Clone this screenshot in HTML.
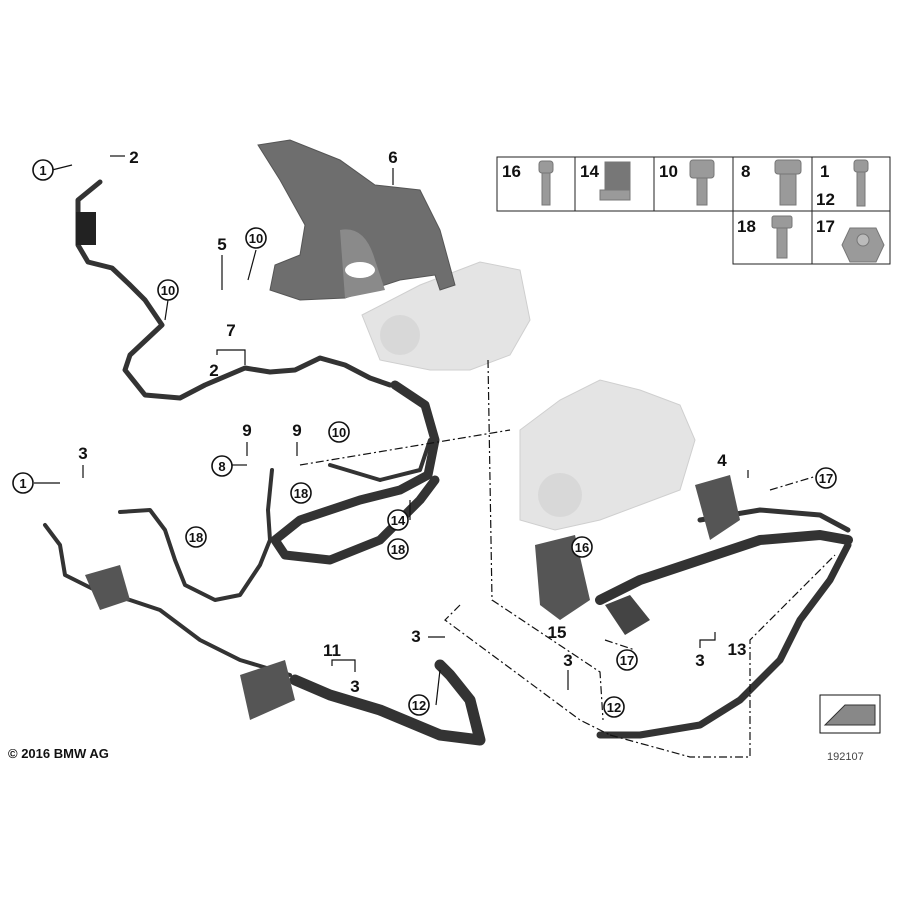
<!DOCTYPE html>
<html><head><style>body{margin:0;background:#fff}svg{display:block}text{font-family:"Liberation Sans",sans-serif;font-weight:bold;fill:#111}</style></head>
<body>
<svg width="900" height="900" viewBox="0 0 900 900" xmlns="http://www.w3.org/2000/svg">
<defs>
<style>.c{fill:#fff;stroke:#111;stroke-width:1.6}.n{font-size:13px}.b{font-size:17px}.h{fill:none;stroke:#333;stroke-linecap:round;stroke-linejoin:round}.l{stroke:#111;stroke-width:1.2;fill:none}.d{stroke:#111;stroke-width:1.2;fill:none;stroke-dasharray:8 3 2 3}</style>
</defs>
<g fill="#e4e4e4" stroke="#cfcfcf">
<path d="M362 315 L420 285 L480 262 L520 270 L530 320 L510 355 L470 370 L430 370 L380 360 Z"/>
<path d="M520 430 L560 400 L600 380 L640 390 L680 405 L695 440 L680 490 L640 505 L600 520 L555 530 L520 520 Z"/>
</g>
<circle cx="400" cy="335" r="20" fill="#d8d8d8"/>
<circle cx="560" cy="495" r="22" fill="#d8d8d8"/>
<path d="M258 145 L290 140 L340 160 L375 185 L420 190 L440 230 L455 285 L440 290 L435 275 L400 280 L345 298 L300 300 L270 290 L275 265 L300 255 L305 225 L280 180 Z" fill="#6e6e6e" stroke="#555"/>
<path d="M340 230 Q365 225 375 260 L385 290 L345 298 Z" fill="#8a8a8a"/>
<ellipse cx="360" cy="270" rx="15" ry="8" fill="#fff"/>
<g fill="none" stroke="#222" stroke-width="1">
<rect x="497" y="157" width="393" height="54"/>
<rect x="733" y="211" width="157" height="53"/>
<line x1="575" y1="157" x2="575" y2="211"/><line x1="654" y1="157" x2="654" y2="211"/><line x1="733" y1="157" x2="733" y2="211"/><line x1="812" y1="157" x2="812" y2="264"/>
</g>
<g class="b"><text x="502" y="177">16</text><text x="580" y="177">14</text><text x="659" y="177">10</text><text x="741" y="177">8</text><text x="820" y="177">1</text><text x="816" y="205">12</text><text x="737" y="232">18</text><text x="816" y="232">17</text></g>
<g fill="#9a9a9a" stroke="#777">
<rect x="542" y="170" width="8" height="35"/><rect x="539" y="161" width="14" height="12" rx="3"/>
<path d="M605 162 h25 v30 h-25 Z" fill="#777"/><path d="M600 190 h30 v10 h-30Z"/>
<rect x="697" y="175" width="10" height="30"/><rect x="690" y="160" width="24" height="18" rx="3"/>
<rect x="780" y="170" width="16" height="35"/><rect x="775" y="160" width="26" height="14" rx="3"/>
<rect x="857" y="170" width="8" height="36"/><rect x="854" y="160" width="14" height="12" rx="3"/>
<rect x="777" y="225" width="10" height="33"/><rect x="772" y="216" width="20" height="12" rx="2"/>
<path d="M842 245 L850 228 h26 l8 17 -8 17 h-26 Z"/><circle cx="863" cy="240" r="6" fill="#bbb"/>
</g>
<path class="h" stroke-width="5" d="M100 182 L78 200 L78 245 L88 262 L112 268 L130 285 L145 300 L162 325 L130 355 L125 370 L145 395 L180 398 L205 385 L245 368 L270 372 L295 370 L320 358 L345 365 L370 378 L390 385"/>
<path d="M76 212 L96 212 L96 245 L76 245Z" fill="#222"/>
<path class="h" stroke-width="9" stroke="#2e2e2e" d="M395 385 L425 405 L435 440 L428 475 L400 490 L360 500 L330 510 L300 520 L275 540 L285 555 L330 560 L380 540 L420 500 L435 480"/>
<path class="h" stroke-width="4" d="M330 465 L380 480 L420 470 L430 440"/>
<path class="h" stroke-width="4" d="M272 470 L268 510 L270 540 L260 565 L240 595 L215 600 L185 585 L175 560 L165 530 L150 510 L120 512"/>
<path class="h" stroke-width="4" d="M45 525 L60 545 L65 575 L95 590 L130 600 L160 610 L200 640 L240 660 L290 675"/>
<path class="h" stroke-width="11" stroke="#2a2a2a" d="M295 680 L330 695 L380 710 L440 735 L480 740 L470 700 L450 675 L440 665"/>
<path class="h" stroke-width="10" stroke="#2a2a2a" d="M600 600 L640 580 L700 560 L760 540 L820 535 L848 540"/>
<path class="h" stroke-width="7" stroke="#2a2a2a" d="M848 545 L830 580 L800 620 L780 660 L740 700 L700 725 L640 735 L600 735"/>
<path class="h" stroke-width="5" d="M700 520 L760 510 L820 515 L848 530"/>
<path d="M695 485 L730 475 L740 520 L710 540 Z" fill="#555"/>
<path d="M535 545 L575 535 L590 600 L560 620 L540 605Z" fill="#555"/>
<path d="M605 605 L630 595 L650 620 L625 635Z" fill="#444"/>
<path d="M240 675 L285 660 L295 700 L250 720Z" fill="#555"/>
<path d="M85 575 L120 565 L130 600 L100 610Z" fill="#555"/>
<path d="M820 695 h60 v38 h-60Z" fill="#fff" stroke="#111"/>
<path d="M825 725 L845 705 L875 705 L875 725 Z" fill="#888" stroke="#333"/>
<g class="l">
<line x1="52" y1="170" x2="72" y2="165"/><line x1="110" y1="156" x2="125" y2="156"/>
<line x1="393" y1="168" x2="393" y2="185"/><line x1="222" y1="255" x2="222" y2="290"/><line x1="256" y1="250" x2="248" y2="280"/>
<line x1="168" y1="300" x2="165" y2="320"/>
<polyline points="217,355 217,350 245,350 245,365"/>
<line x1="83" y1="465" x2="83" y2="478"/><line x1="34" y1="483" x2="60" y2="483"/>
<line x1="247" y1="442" x2="247" y2="456"/><line x1="297" y1="442" x2="297" y2="456"/><line x1="232" y1="465" x2="247" y2="465"/>
<polyline points="332,666 332,660 355,660 355,672"/>
<line x1="428" y1="637" x2="445" y2="637"/><line x1="436" y1="705" x2="440" y2="670"/>
<line x1="748" y1="470" x2="748" y2="478"/><polyline points="715,632 715,640 700,640 700,648"/>
<line x1="568" y1="670" x2="568" y2="690"/>
<line x1="410" y1="500" x2="410" y2="520"/>
</g>
<g class="d">
<path d="M488 360 L492 600 L600 672 L603 720"/>
<path d="M460 605 L445 620 L580 720 L610 735"/>
<path d="M610 735 L690 757 L750 757 L750 640 L835 555"/>
<path d="M300 465 L510 430"/>
<path d="M605 640 L635 650"/>
<path d="M770 490 L820 475"/>
</g>
<g>
<circle class="c" cx="43" cy="170" r="10"/><circle class="c" cx="168" cy="290" r="10"/><circle class="c" cx="256" cy="238" r="10"/>
<circle class="c" cx="339" cy="432" r="10"/><circle class="c" cx="222" cy="466" r="10"/><circle class="c" cx="23" cy="483" r="10"/>
<circle class="c" cx="301" cy="493" r="10"/><circle class="c" cx="196" cy="537" r="10"/><circle class="c" cx="398" cy="520" r="10"/>
<circle class="c" cx="398" cy="549" r="10"/><circle class="c" cx="582" cy="547" r="10"/><circle class="c" cx="826" cy="478" r="10"/>
<circle class="c" cx="627" cy="660" r="10"/><circle class="c" cx="419" cy="705" r="10"/><circle class="c" cx="614" cy="707" r="10"/>
</g>
<g class="n" text-anchor="middle">
<text x="43" y="175">1</text><text x="168" y="295">10</text><text x="256" y="243">10</text><text x="339" y="437">10</text>
<text x="222" y="471">8</text><text x="23" y="488">1</text><text x="301" y="498">18</text><text x="196" y="542">18</text>
<text x="398" y="525">14</text><text x="398" y="554">18</text><text x="582" y="552">16</text><text x="826" y="483">17</text>
<text x="627" y="665">17</text><text x="419" y="710">12</text><text x="614" y="712">12</text>
</g>
<g class="b" text-anchor="middle">
<text x="134" y="163">2</text><text x="393" y="163">6</text><text x="222" y="250">5</text><text x="231" y="336">7</text>
<text x="214" y="376">2</text><text x="247" y="436">9</text><text x="297" y="436">9</text><text x="83" y="459">3</text>
<text x="722" y="466">4</text><text x="332" y="656">11</text><text x="355" y="692">3</text><text x="416" y="642">3</text>
<text x="557" y="638">15</text><text x="568" y="666">3</text><text x="737" y="655">13</text><text x="700" y="666">3</text>
</g>
<text x="8" y="758" style="font-size:13px">© 2016 BMW AG</text>
<text x="827" y="760" style="font-size:11px;font-weight:normal;fill:#444">192107</text>
</svg>
</body></html>
